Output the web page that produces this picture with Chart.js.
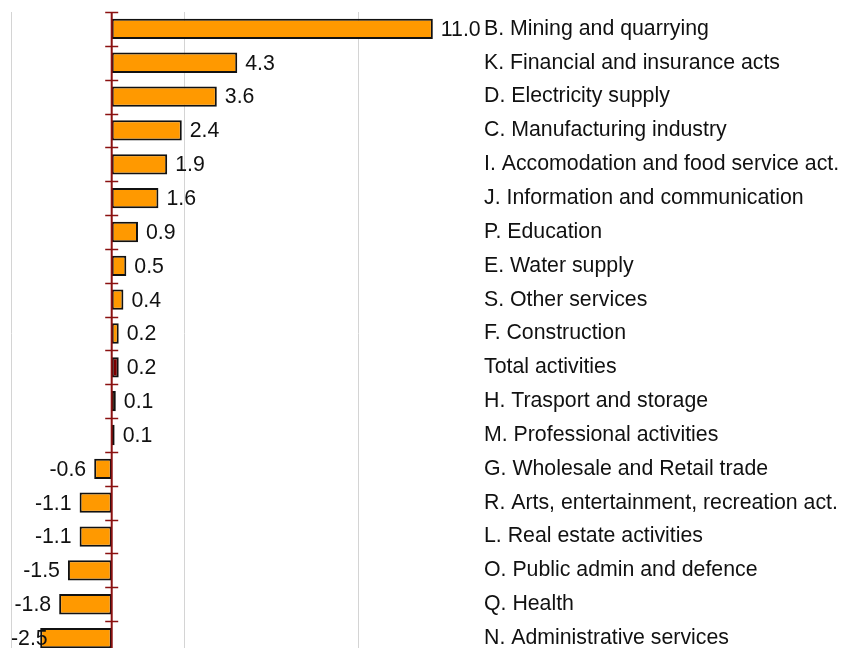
<!DOCTYPE html>
<html>
<head>
<meta charset="utf-8">
<script src="https://cdn.jsdelivr.net/npm/chart.js@4.4.1/dist/chart.umd.min.js"></script>
<style>
  html, body { margin: 0; padding: 0; background: #ffffff; overflow: hidden; }
  #wrap { position: relative; width: 854px; height: 660px; }
</style>
</head>
<body>
<div id="wrap"><canvas id="c"></canvas></div>
<script>
const categories = [
  "B. Mining and quarrying",
  "K. Financial and insurance acts",
  "D. Electricity supply",
  "C. Manufacturing industry",
  "I. Accomodation and food service act.",
  "J. Information and communication",
  "P. Education",
  "E. Water supply",
  "S. Other services",
  "F. Construction",
  "Total activities",
  "H. Trasport and storage",
  "M. Professional activities",
  "G. Wholesale and Retail trade",
  "R. Arts, entertainment, recreation act.",
  "L. Real estate activities",
  "O. Public admin and defence",
  "Q. Health",
  "N. Administrative services"
];
const values = [11.0, 4.3, 3.6, 2.4, 1.9, 1.6, 0.9, 0.5, 0.4, 0.24, 0.24, 0.14, 0.1, -0.6, -1.1, -1.1, -1.5, -1.8, -2.45];
const highlightCategory = "Total activities";
const xRange = [-3.45, 12.65];
const gridValues = [-3.45, 2.5, 8.45];

const FONT = "'Liberation Sans', Arial, sans-serif";
const FONT_SIZE = 21.3;

const zeroAxisPlugin = {
  id: 'zeroAxis',
  afterDatasetsDraw(chart) {
    const ctx = chart.ctx, xs = chart.scales.x, ys = chart.scales.y, ca = chart.chartArea;
    const x0 = xs.getPixelForValue(0);
    ctx.save();
    ctx.strokeStyle = '#8b1111';
    ctx.lineWidth = 2;
    ctx.beginPath();
    ctx.moveTo(x0, ca.top);
    ctx.lineTo(x0, ca.bottom);
    ctx.stroke();
    ctx.lineWidth = 1.5;
    for (let i = 0; i <= categories.length; i++) {
      const y = Math.round(ys.getPixelForValue(i - 0.5)) + 0.5;
      ctx.beginPath();
      ctx.moveTo(x0 - 6.5, y);
      ctx.lineTo(x0 + 6.5, y);
      ctx.stroke();
    }
    ctx.restore();
  }
};

const valueLabelPlugin = {
  id: 'valueLabels',
  afterDatasetsDraw(chart) {
    const ctx = chart.ctx, ca = chart.chartArea;
    const meta = chart.getDatasetMeta(0);
    ctx.save();
    ctx.font = FONT_SIZE + 'px ' + FONT;
    ctx.fillStyle = '#111111';
    ctx.textBaseline = 'middle';
    ctx.textAlign = 'left';
    meta.data.forEach((bar, i) => {
      const v = values[i];
      const txt = v.toFixed(1);
      const w = ctx.measureText(txt).width;
      if (v >= 0) {
        ctx.fillText(txt, bar.x + 8, bar.y + 1);
      } else {
        let x = bar.x - 8 - w;
        if (x < ca.left) x = ca.left;
        ctx.fillText(txt, x, bar.y + 1);
      }
    });
    ctx.restore();
  }
};

new Chart(document.getElementById('c'), {
  type: 'bar',
  data: {
    labels: categories,
    datasets: [{
      data: values,
      backgroundColor: (c) => categories[c.dataIndex] === highlightCategory ? '#7a0000' : '#ff9900',
      borderColor: '#111111',
      borderWidth: 2,
      borderSkipped: false,
      barPercentage: 0.6,
      categoryPercentage: 1.0
    }]
  },
  options: {
    indexAxis: 'y',
    responsive: true,
    maintainAspectRatio: false,
    animation: false,
    layout: { padding: { left: 11, top: 12, right: 0, bottom: 5 } },
    plugins: { legend: { display: false }, tooltip: { enabled: false } },
    scales: {
      x: {
        type: 'linear',
        min: xRange[0],
        max: xRange[1],
        afterBuildTicks: (s) => { s.ticks = gridValues.map(v => ({ value: v })); },
        ticks: { display: false },
        grid: { color: '#d4d4d4', lineWidth: 1, drawTicks: false },
        border: { display: false },
        afterFit: (s) => { s.height = 0; s.paddingLeft = 0; s.paddingRight = 0; }
      },
      y: {
        position: 'right',
        grid: { display: false, drawTicks: false },
        border: { display: false },
        ticks: {
          color: '#111111',
          padding: 3,
          font: { family: FONT, size: FONT_SIZE }
        },
        afterFit: (s) => { s.width = 373; s.paddingTop = 0; s.paddingBottom = 0; }
      }
    }
  },
  plugins: [zeroAxisPlugin, valueLabelPlugin]
});
</script>
</body>
</html>
